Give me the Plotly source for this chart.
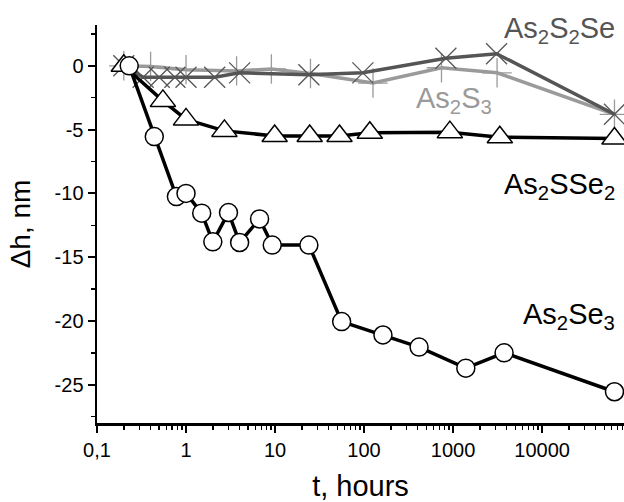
import plotly.graph_objects as go

# ---- data ----
t_as2se3 = [0.23, 0.44, 0.78, 1.0, 1.5, 2.0, 3.0, 4.0, 6.7, 9.3, 24, 56, 163, 415, 1390, 3740, 65000]
dh_as2se3 = [0, -5.55, -10.25, -10.0, -11.55, -13.8, -11.5, -13.85, -12.0, -14.05, -14.05,
             -20.05, -21.1, -22.05, -23.7, -22.5, -25.55]

t_as2sse2 = [0.2, 0.55, 1.0, 2.7, 9.9, 24.5, 53, 116, 920, 3350, 65000]
dh_as2sse2 = [0, -2.75, -4.2, -5.1, -5.5, -5.5, -5.5, -5.25, -5.2, -5.6, -5.7]

t_as2s2se = [0.2, 0.33, 0.5, 0.75, 1.0, 2.1, 4.0, 24, 97, 830, 3080, 65000]
dh_as2s2se = [0, -0.9, -0.9, -0.9, -0.9, -0.9, -0.55, -0.7, -0.55, 0.6, 0.95, -3.8]

t_as2s3 = [0.2, 0.4, 1.0, 3.7, 9.1, 25, 126, 741, 3120, 65000]
dh_as2s3 = [0, -0.05, -0.3, -0.4, -0.25, -0.6, -1.35, -0.15, -0.55, -3.8]

x_tickvals = [0.1, 1, 10, 100, 1000, 10000]
x_ticktext = ["0,1", "1", "10", "100", "1000", "10000"]
y_tickvals = [0, -5, -10, -15, -20, -25]
y_ticktext = ["0", "-5", "-10", "-15", "-20", "-25"]

FONT = "Liberation Sans, Arial, sans-serif"
DARK = "#555555"
LIGHT = "#9a9a9a"

fig = go.Figure()

# As2S3 (+, light gray)
fig.add_trace(go.Scatter(x=t_as2s3, y=dh_as2s3, mode="lines+markers",
                         line=dict(color=LIGHT, width=3.5),
                         marker=dict(symbol="cross-thin-open", size=21,
                                     line=dict(color=LIGHT, width=1.3)),
                         showlegend=False))
# As2S2Se (x, dark gray)
fig.add_trace(go.Scatter(x=t_as2s2se, y=dh_as2s2se, mode="lines+markers",
                         line=dict(color=DARK, width=3.5),
                         marker=dict(symbol="x-thin-open", size=21,
                                     line=dict(color=DARK, width=1.3)),
                         showlegend=False))
# As2SSe2 (triangles)
fig.add_trace(go.Scatter(x=t_as2sse2, y=dh_as2sse2, mode="lines+markers",
                         line=dict(color="black", width=3.5),
                         marker=dict(symbol="triangle-up", size=22, color="white",
                                     line=dict(color="black", width=1.5)),
                         showlegend=False))
# As2Se3 (circles)
fig.add_trace(go.Scatter(x=t_as2se3, y=dh_as2se3, mode="lines+markers",
                         line=dict(color="black", width=3.5),
                         marker=dict(symbol="circle", size=18, color="white",
                                     line=dict(color="black", width=1.5)),
                         showlegend=False))

labels = [
    ("As<sub>2</sub>S<sub>2</sub>Se", 3.55, 2.8, DARK),
    ("As<sub>2</sub>S<sub>3</sub>", 2.56, -2.7, LIGHT),
    ("As<sub>2</sub>SSe<sub>2</sub>", 3.55, -9.4, "black"),
    ("As<sub>2</sub>Se<sub>3</sub>", 3.76, -19.6, "black"),
]
for txt, lx, ly, col in labels:
    fig.add_annotation(x=lx, y=ly, xref="x", yref="y", text=txt, showarrow=False,
                       xanchor="left", yanchor="middle",
                       font=dict(family=FONT, size=29, color=col))

fig.update_xaxes(type="log", range=[-1, 4.92],
                 tickmode="array", tickvals=x_tickvals, ticktext=x_ticktext,
                 ticks="outside", ticklen=7, tickwidth=2, tickcolor="black",
                 showline=True, linecolor="black", linewidth=2.5,
                 showgrid=False, zeroline=False,
                 minor=dict(ticks="outside", ticklen=4, tickwidth=1.5, tickcolor="black",
                            dtick="D1", showgrid=False),
                 tickfont=dict(family=FONT, size=20, color="black"),
                 title=dict(text="t, hours", font=dict(family=FONT, size=29, color="black"),
                            standoff=22))
fig.update_yaxes(range=[-28, 3.2],
                 tickmode="array", tickvals=y_tickvals, ticktext=y_ticktext,
                 ticks="outside", ticklen=7, tickwidth=2, tickcolor="black",
                 showline=True, linecolor="black", linewidth=2.5,
                 showgrid=False, zeroline=False,
                 minor=dict(ticks="outside", ticklen=4, tickwidth=1.5, tickcolor="black",
                            dtick=2.5, showgrid=False),
                 tickfont=dict(family=FONT, size=20, color="black"),
                 title=dict(text="Δh, nm", font=dict(family=FONT, size=28, color="black"),
                            standoff=16))

fig.update_layout(width=624, height=502,
                  margin=dict(l=97, r=0, t=25, b=79),
                  plot_bgcolor="white", paper_bgcolor="white")

fig.write_html("out.html",
               config={"displayModeBar": False, "staticPlot": True},
               post_script="document.body.style.margin='0';"
                           "document.body.style.overflow='hidden';")
